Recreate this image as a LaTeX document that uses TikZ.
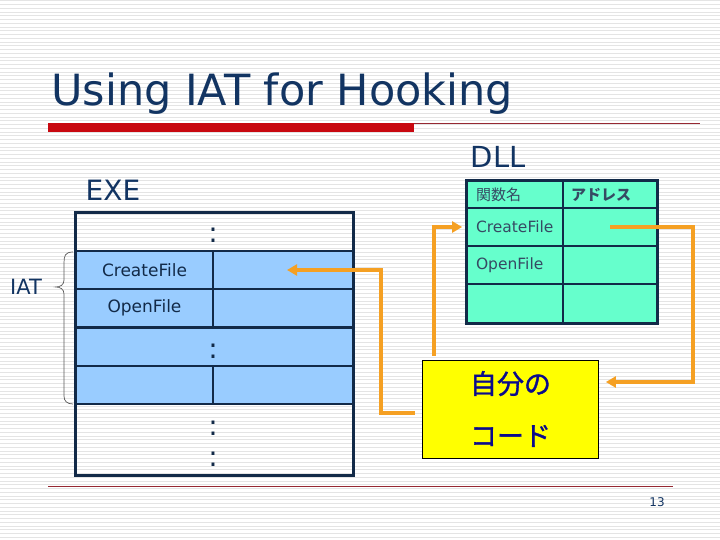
\documentclass[tikz,border=0pt]{standalone}
\usepackage{fontspec}
\setmainfont{DejaVu Sans}
\newfontfamily\cjk{Noto Sans CJK JP}
\newfontfamily\cjkmid[FakeBold=1.3]{Noto Sans CJK JP}
\usepackage{tikz}
\usetikzlibrary{positioning,arrows.meta}
\definecolor{TitleNavy}{RGB}{18,52,98}
\definecolor{FrameNavy}{RGB}{18,42,72}
\definecolor{SlideRed}{RGB}{200,8,16}
\definecolor{RuleRed}{RGB}{150,40,50}
\definecolor{IatBlue}{RGB}{153,204,255}
\definecolor{DllGreen}{RGB}{102,255,204}
\definecolor{HookOrange}{RGB}{245,160,35}
\definecolor{CodeYellow}{RGB}{255,255,0}
\definecolor{CodeText}{RGB}{10,10,140}
\definecolor{StripeGray}{RGB}{228,228,228}
\definecolor{BraceGray}{RGB}{90,90,90}

\begin{document}
\begin{tikzpicture}[x=1pt,y=-1pt,
  exefull/.style={draw=FrameNavy, line width=1.5pt, minimum width=277pt, inner sep=0pt},
  exeleft/.style={draw=FrameNavy, line width=1.5pt, fill=IatBlue, minimum width=137pt, minimum height=38pt, inner sep=0pt, text=FrameNavy, font=\fontsize{17}{17}\selectfont},
  exeright/.style={exeleft, minimum width=140pt},
  dllcell/.style={draw=FrameNavy, line width=1.8pt, fill=DllGreen, minimum width=96pt, minimum height=38pt, inner sep=0pt, text width=78pt, align=left, text=FrameNavy!85, font=\fontsize{15.5}{15.5}\selectfont},
  dllhead/.style={dllcell, minimum height=27pt, font=\cjk\fontsize{15}{15}\selectfont},
  dotsym/.style={text=FrameNavy, inner sep=0pt, font=\fontsize{28}{28}\selectfont},
  label/.style={text=TitleNavy, inner sep=0pt},
  codebox/.style={draw=black, line width=0.8pt, fill=CodeYellow, minimum width=176pt, minimum height=98pt, align=center, text=CodeText, font=\cjkmid\fontsize{27}{52}\selectfont},
  hook/.style={draw=HookOrange, line width=4pt, -{Triangle[length=10pt,width=11pt]}}
]
\useasboundingbox (0,0) rectangle (720,540);
% striped slide background
\foreach \y in {1,4.75,...,540}
  \draw[StripeGray, line width=1pt] (0,\y) -- (720,\y);

% title and rules
\node[label, anchor=base west, font=\fontsize{43}{43}\selectfont] (title) at (51,106) {Using IAT for Hooking};
\fill[SlideRed] (48,123) rectangle (414,132);
\draw[RuleRed, line width=0.8pt] (414,123.5) -- (700,123.5);
\draw[RuleRed, line width=0.8pt] (48,486) -- (673,486);
\node[label, font=\fontsize{12}{12}\selectfont] (pageno) at (657,502) {13};

% EXE side
\node[label, font=\fontsize{28}{28}\selectfont] (exe) at (113,190) {EXE};
\node[exefull, minimum height=38pt] (etop) at (214.5,232) {};
\node[exeleft] (ecfn) at (144.5,270) {CreateFile};
\node[exeright] (ecfa) at (283,270) {};
\node[exeleft] (eofn) at (144.5,308) {OpenFile};
\node[exeright] (eofa) at (283,308) {};
\node[exefull, fill=IatBlue, minimum height=38pt] (edots) at (214.5,347) {};
\node[exeleft] (exn) at (144.5,385) {};
\node[exeright] (exa) at (283,385) {};
\node[exefull, minimum height=71pt] (erest) at (214.5,439.5) {};
\draw[FrameNavy, line width=2.5pt] (etop.north west) rectangle (erest.south east);
\node[dotsym] (dota) at (213,235) {:};
\node[dotsym] (dotb) at (213,351) {:};
\node[dotsym] (dotc) at (213,428) {:};
\node[dotsym] (dotd) at (213,459) {:};

% IAT brace
\draw[BraceGray, line width=0.7pt] (73,252) .. controls (65,252) and (64,256) .. (64,263)
  -- (64,280) .. controls (64,285) and (60,287) .. (56,287)
  .. controls (60,287) and (64,289) .. (64,294)
  -- (64,396) .. controls (64,401) and (67,404) .. (73,404);
\node[label, font=\fontsize{21}{21}\selectfont] (iat) at (26,287) {IAT};

% DLL side
\node[label, font=\fontsize{29}{29}\selectfont] (dll) at (498,157) {DLL};
\node[dllhead] (dhn) at (515,194.5) {関数名};
\node[dllhead, minimum width=94pt, font=\cjk\bfseries\fontsize{15}{15}\selectfont] (dha) at (610,194.5) {アドレス};
\node[dllcell] (dcfn) at (515,227) {CreateFile};
\node[dllcell, minimum width=94pt] (dcfa) at (610,227) {};
\node[dllcell] (dofn) at (515,265) {OpenFile};
\node[dllcell, minimum width=94pt] (dofa) at (610,265) {};
\node[dllcell, minimum height=39pt] (dxn) at (515,303.5) {};
\node[dllcell, minimum width=94pt, minimum height=39pt] (dxa) at (610,303.5) {};
\draw[FrameNavy, line width=2.8pt] (dhn.north west) rectangle (dxa.south east);

% own code
\node[codebox] (code) at (510.5,409) {自分の\\コード};

% hook arrows
\draw[hook] ([xshift=12pt,yshift=4pt]code.north west) |- ([xshift=-4pt]dcfn.west);
\draw[hook] (dcfa.center) -- ++(83,0) |- ([xshift=7pt,yshift=27pt]code.east);
\draw[hook] ([xshift=-7pt,yshift=-4pt]code.west) -- ++(-34,0) |- ([xshift=4pt]ecfa.center);
\end{tikzpicture}
\end{document}
